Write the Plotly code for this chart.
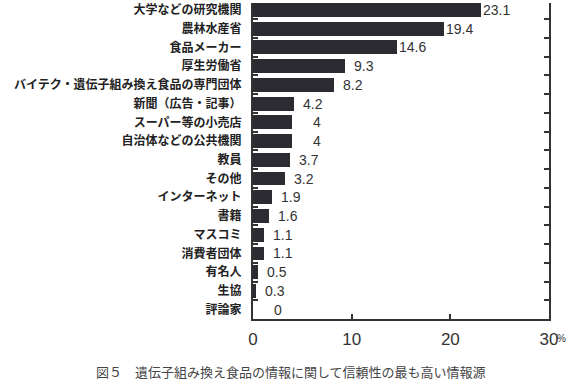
import plotly.graph_objects as go

# Data (top-to-bottom order as shown in the chart)
categories = [
    "大学などの研究機関", "農林水産省", "食品メーカー", "厚生労働省",
    "バイテク・遺伝子組み換え食品の専門団体", "新聞（広告・記事）", "スーパー等の小売店",
    "自治体などの公共機関", "教員", "その他", "インターネット", "書籍", "マスコミ",
    "消費者団体", "有名人", "生協", "評論家",
]
values = [23.1, 19.4, 14.6, 9.3, 8.2, 4.2, 4, 4, 3.7, 3.2, 1.9, 1.6, 1.1, 1.1, 0.5, 0.3, 0]
value_labels = ["23.1", "19.4", "14.6", "9.3", "8.2", "4.2", "4", "4", "3.7", "3.2",
                "1.9", "1.6", "1.1", "1.1", "0.5", "0.3", "0"]
x_ticks = [0, 10, 20, 30]
caption = "図５　遺伝子組み換え食品の情報に関して信頼性の最も高い情報源"

# Plot bottom-to-top
cats_b = categories[::-1]
vals_b = values[::-1]
labs_b = value_labels[::-1]

fig = go.Figure()
fig.add_trace(go.Bar(
    x=vals_b, y=cats_b, orientation="h",
    marker=dict(color="#2b2b31", line=dict(width=0)),
    width=0.74, hoverinfo="skip",
))

annotations = []
for c, v, t in zip(cats_b, vals_b, labs_b):
    annotations.append(dict(
        x=v, y=c, xref="x", yref="y", text=t, showarrow=False,
        xanchor="right", xshift=31, yanchor="middle",
        font=dict(family="Liberation Sans, Arial", size=14, color="#333333"),
    ))

annotations.append(dict(
    x=1, y=0, xref="paper", yref="paper", text="%", showarrow=False,
    xanchor="left", yanchor="middle", xshift=6, yshift=-19,
    font=dict(family="Liberation Sans, Arial", size=10, color="#333333"),
))
annotations.append(dict(
    x=(291 - 253) / (549 - 253), y=0, xref="paper", yref="paper", text=caption,
    showarrow=False, xanchor="center", yanchor="middle", yshift=-52,
    font=dict(family="Noto Sans CJK JP", size=13, color="#444444"),
))

fig.update_layout(
    width=567, height=381,
    margin=dict(l=253, r=18, t=0, b=62),
    paper_bgcolor="white", plot_bgcolor="white",
    showlegend=False, bargap=0,
    annotations=annotations,
    xaxis=dict(
        range=[0, 30], tickvals=x_ticks, ticktext=[str(t) for t in x_ticks],
        showgrid=False, zeroline=False, showline=True, linecolor="#333333", linewidth=2,
        ticks="inside", ticklen=5, tickwidth=2, tickcolor="#333333",
        tickfont=dict(family="Liberation Sans, Arial", size=17, color="#333333"),
        ticklabelstandoff=4, fixedrange=True,
    ),
    yaxis=dict(
        type="category", range=[-0.5, 16.37],
        showgrid=False, zeroline=False, showline=True, linecolor="#333333", linewidth=2,
        mirror="ticks", ticks="inside", ticklen=5, tickwidth=1.5, tickcolor="#333333",
        tickson="boundaries",
        tickfont=dict(family="Noto Sans CJK JP", size=12, color="#222222", weight="bold"),
        ticklabelstandoff=7, fixedrange=True,
    ),
)

fig.write_html("out.html")
